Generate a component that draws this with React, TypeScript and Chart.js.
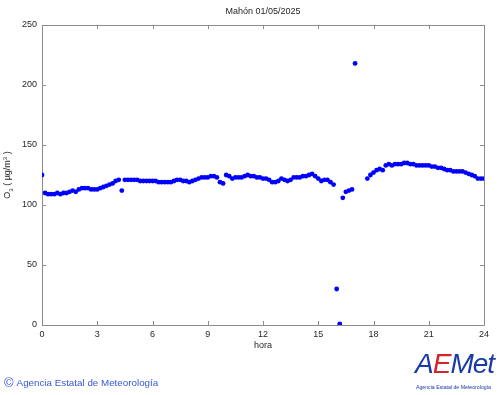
import React, { useEffect, useRef } from "react";
import { Chart, registerables } from "chart.js";

Chart.register(...registerables);

const TITLE = "Mahón 01/05/2025";
const X_TITLE = "hora";
const X_TICKS = [0, 3, 6, 9, 12, 15, 18, 21, 24];
const Y_TICKS = [0, 50, 100, 150, 200, 250];
const STEP_MINUTES = 10;
// O3 concentration (µg/m3), one value every 10 minutes from 00:00 to 24:00
const O3_VALUES: (number | null)[] = [
  125, 110, 109, 109, 109, 110,
  109, 110, 110, 111, 112, 111,
  113, 114, 114, 114, 113, 113,
  113, 114, 115, 116, 117, 118,
  120, 121, 112, 121, 121, 121,
  121, 121, 120, 120, 120, 120,
  120, 120, 119, 119, 119, 119,
  119, 120, 121, 121, 120, 120,
  119, 120, 121, 122, 123, 123,
  123, 124, 124, 123, 119, 118,
  125, 124, 122, 123, 123, 123,
  124, 125, 124, 124, 123, 123,
  122, 122, 121, 119, 119, 120,
  122, 121, 120, 121, 123, 123,
  123, 124, 124, 125, 126, 124,
  122, 120, 121, 121, 119, 117,
  30, 1, 106, 111, 112, 113,
  218, null, null, null, 122, 125,
  127, 129, 130, 129, 133, 134,
  133, 134, 134, 134, 135, 135,
  134, 134, 133, 133, 133, 133,
  133, 132, 132, 131, 131, 130,
  129, 129, 128, 128, 128, 128,
  127, 126, 125, 124, 122, 122,
  122,
];

const FONT = "'Liberation Sans', Arial, Helvetica, sans-serif";
const TEXT_COLOR = "#262626";
const AXIS_COLOR = "#8c8c8c";
const POINT_COLOR = "#0000ff";

const framePlugin = {
  id: "frame",
  beforeDatasetsDraw(chart: any) {
    const { ctx, chartArea, scales } = chart;
    const { left, right, top, bottom } = chartArea;
    ctx.save();
    ctx.strokeStyle = AXIS_COLOR;
    ctx.lineWidth = 1;
    ctx.beginPath();
    ctx.rect(Math.round(left) + 0.5, Math.round(top) + 0.5, Math.round(right - left), Math.round(bottom - top));
    ctx.stroke();
    const tl = 4;
    ctx.beginPath();
    for (const v of X_TICKS) {
      const px = Math.round(scales.x.getPixelForValue(v)) + 0.5;
      ctx.moveTo(px, bottom);
      ctx.lineTo(px, bottom - tl);
      ctx.moveTo(px, top);
      ctx.lineTo(px, top + tl);
    }
    for (const v of Y_TICKS) {
      const py = Math.round(scales.y.getPixelForValue(v)) + 0.5;
      ctx.moveTo(left, py);
      ctx.lineTo(left + tl, py);
      ctx.moveTo(right, py);
      ctx.lineTo(right - tl, py);
    }
    ctx.stroke();
    ctx.restore();
  },
  afterDraw(chart: any) {
    const { ctx, chartArea } = chart;
    const { left, right, top, bottom } = chartArea;
    const cx = (left + right) / 2;
    ctx.save();
    ctx.fillStyle = TEXT_COLOR;
    ctx.font = `9px ${FONT}`;
    ctx.textAlign = "center";
    ctx.textBaseline = "middle";
    ctx.fillText(TITLE, cx, 12);
    ctx.fillText(X_TITLE, cx, 346);

    // Y axis title: O3 ( µg/m3 ) with sub/superscripts, rotated
    const cy = (top + bottom) / 2;
    ctx.translate(8, cy);
    ctx.rotate(-Math.PI / 2);
    ctx.textAlign = "left";
    const big = `9px ${FONT}`;
    const small = `6px ${FONT}`;
    const parts: [string, string, number][] = [
      ["O", big, 0],
      ["3", small, 3],
      [" ( µg/m", big, 0],
      ["3", small, -3],
      [" )", big, 0],
    ];
    let total = 0;
    for (const [t, f] of parts) {
      ctx.font = f;
      total += ctx.measureText(t).width;
    }
    let x = -total / 2;
    for (const [t, f, dy] of parts) {
      ctx.font = f;
      ctx.fillText(t, x, dy);
      x += ctx.measureText(t).width;
    }
    ctx.restore();
  },
};

export default function App() {
  const ref = useRef<HTMLCanvasElement>(null);

  useEffect(() => {
    const canvas = ref.current;
    if (!canvas) return;
    const points = O3_VALUES.map((v, i) => ({ x: (i * STEP_MINUTES) / 60, y: v }));
    const chart = new Chart(canvas, {
      type: "scatter",
      data: {
        datasets: [
          {
            data: points as any,
            backgroundColor: POINT_COLOR,
            borderColor: POINT_COLOR,
            borderWidth: 0,
            pointRadius: 2.4,
            pointHoverRadius: 2.4,
          },
        ],
      },
      options: {
        responsive: false,
        animation: false,
        devicePixelRatio: 1,
        layout: { padding: { top: 25, right: 16, left: 0, bottom: 0 } },
        plugins: {
          legend: { display: false },
          title: { display: false },
          tooltip: { enabled: false },
        },
        scales: {
          x: {
            type: "linear",
            min: 0,
            max: 24,
            afterBuildTicks: (s: any) => {
              s.ticks = X_TICKS.map((v) => ({ value: v }));
            },
            afterFit: (s: any) => {
              s.height = 70;
            },
            grid: { display: false, drawTicks: false },
            border: { display: false },
            ticks: {
              color: TEXT_COLOR,
              font: { size: 9, family: FONT },
              padding: 4,
              maxRotation: 0,
              autoSkip: false,
            },
          },
          y: {
            type: "linear",
            min: 0,
            max: 250,
            afterBuildTicks: (s: any) => {
              s.ticks = Y_TICKS.map((v) => ({ value: v }));
            },
            afterFit: (s: any) => {
              s.width = 42;
            },
            grid: { display: false, drawTicks: false },
            border: { display: false },
            ticks: {
              color: TEXT_COLOR,
              font: { size: 9, family: FONT },
              padding: 5,
              autoSkip: false,
            },
          },
        },
      },
      plugins: [framePlugin],
    });
    return () => chart.destroy();
  }, []);

  return (
    <div style={{ position: "fixed", left: 0, top: 0, width: 500, height: 395, background: "#fff", overflow: "hidden" }}>
      <canvas ref={ref} width={500} height={395} style={{ position: "absolute", left: 0, top: 0, width: 500, height: 395 }} />
      <div
        style={{
          position: "absolute",
          left: 4,
          top: 376,
          fontFamily: FONT,
          fontSize: 9.8,
          color: "#3a55d8",
          whiteSpace: "nowrap",
          lineHeight: "14px",
        }}
      >
        <span style={{ fontSize: 13, marginRight: 3, verticalAlign: "-1px" }}>©</span>
        Agencia Estatal de Meteorología
      </div>
      <div
        style={{
          position: "absolute",
          left: 415,
          top: 348,
          fontFamily: FONT,
          fontStyle: "italic",
          fontSize: 28,
          lineHeight: "32px",
          whiteSpace: "nowrap",
          letterSpacing: "-1px",
        }}
      >
        <span style={{ color: "#1a3aa8" }}>A</span>
        <span style={{ color: "#d4262a" }}>E</span>
        <span style={{ color: "#1a3aa8" }}>Met</span>
      </div>
      <div
        style={{
          position: "absolute",
          left: 416,
          top: 384,
          fontFamily: FONT,
          fontSize: 5.2,
          color: "#1a3aa8",
          whiteSpace: "nowrap",
          lineHeight: "6px",
        }}
      >
        Agencia Estatal de Meteorología
      </div>
    </div>
  );
}
